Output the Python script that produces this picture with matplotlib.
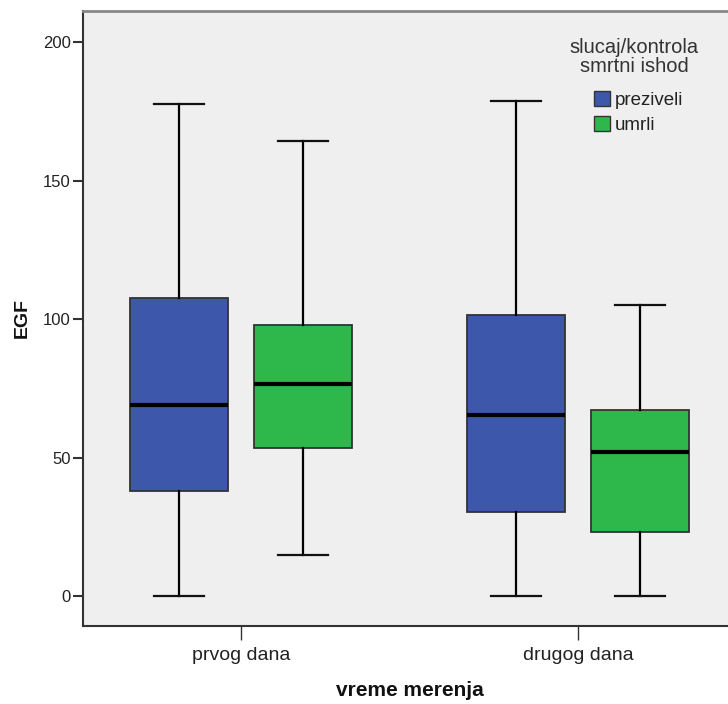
import matplotlib
matplotlib.use("Agg")
import matplotlib.pyplot as plt
from matplotlib.patches import Patch

plt.rcParams['font.family'] = ['Liberation Sans', 'DejaVu Sans']

categories = ["prvog dana", "drugog dana"]
groups = ["preziveli", "umrli"]
colors = ["#3D57AB", "#2EB74A"]

# five-number summaries per group: [prvog dana, drugog dana]
whislo = {"preziveli": [0.0, 0.0], "umrli": [14.8, 0.0]}
q1 = {"preziveli": [37.9, 30.3], "umrli": [53.4, 23.1]}
med = {"preziveli": [69.0, 65.3], "umrli": [76.5, 52.0]}
q3 = {"preziveli": [107.6, 101.4], "umrli": [97.8, 67.1]}
whishi = {"preziveli": [177.6, 178.7], "umrli": [164.3, 105.1]}

yticks = [0, 50, 100, 150, 200]

W, H = 728, 704
fig = plt.figure(figsize=(W / 100, H / 100), dpi=100)
fig.patch.set_facecolor("white")
ax = fig.add_axes([83 / W, 1 - 626 / H, (736 - 83) / W, (626 - 11) / H])
ax.set_facecolor("#EFEFEF")

offsets = [-0.185, 0.185]
width = 0.29
for gi, g in enumerate(groups):
    stats = []
    for ci in range(len(categories)):
        stats.append(dict(whislo=whislo[g][ci], q1=q1[g][ci], med=med[g][ci],
                          q3=q3[g][ci], whishi=whishi[g][ci], fliers=[]))
    pos = [ci + offsets[gi] for ci in range(len(categories))]
    ax.bxp(stats, positions=pos, widths=width, patch_artist=True,
           showfliers=False, manage_ticks=False,
           boxprops=dict(facecolor=colors[gi], edgecolor="#333333", linewidth=1.3),
           medianprops=dict(color="black", linewidth=3, solid_capstyle="butt"),
           whiskerprops=dict(color="black", linewidth=1.6),
           capprops=dict(color="#111111", linewidth=1.6),
           capwidths=0.148)

ax.set_xlim(-158 / 337, 1 + 158 / 337)
ax.set_ylim(-10.8, 211.2)
ax.set_xticks(range(len(categories)))
ax.set_xticklabels(categories, fontsize=14, color="#222222")
ax.set_yticks(yticks)
ax.set_yticklabels([str(t) for t in yticks], fontsize=12, color="#222222")
ax.tick_params(axis="x", length=10, width=1, color="#333333", pad=5)
ax.tick_params(axis="y", length=7, width=1.5, color="#333333", pad=2)

for s in ["left", "bottom"]:
    ax.spines[s].set_color("#333333")
    ax.spines[s].set_linewidth(1.5)
ax.spines["top"].set_color("#888888")
ax.spines["top"].set_linewidth(2)
ax.spines["right"].set_visible(False)

fig.text(22 / W, 1 - 318 / H, "EGF", rotation=90, fontsize=14, fontweight="bold",
         ha="center", va="center", color="#111111")
fig.text(410 / W, 1 - 690 / H, "vreme merenja", fontsize=15, fontweight="bold",
         ha="center", va="center", color="#111111")

fig.text(634 / W, 1 - 57 / H, "slucaj/kontrola\nsmrtni ishod", fontsize=14.5,
         ha="center", va="center", multialignment="center", linespacing=0.95,
         color="#333333")

handles = [Patch(facecolor=c, edgecolor="#333333", linewidth=1) for c in colors]
leg = fig.legend(handles, groups, loc="upper left",
                 bbox_to_anchor=(594 / W, 1 - 91 / H), bbox_transform=fig.transFigure,
                 frameon=False, fontsize=13.5, borderpad=0, borderaxespad=0,
                 handlelength=0.85, handleheight=0.85, handletextpad=0.25,
                 labelspacing=0.4)
for t in leg.get_texts():
    t.set_color("#222222")

fig.savefig("out.png", dpi=100)
